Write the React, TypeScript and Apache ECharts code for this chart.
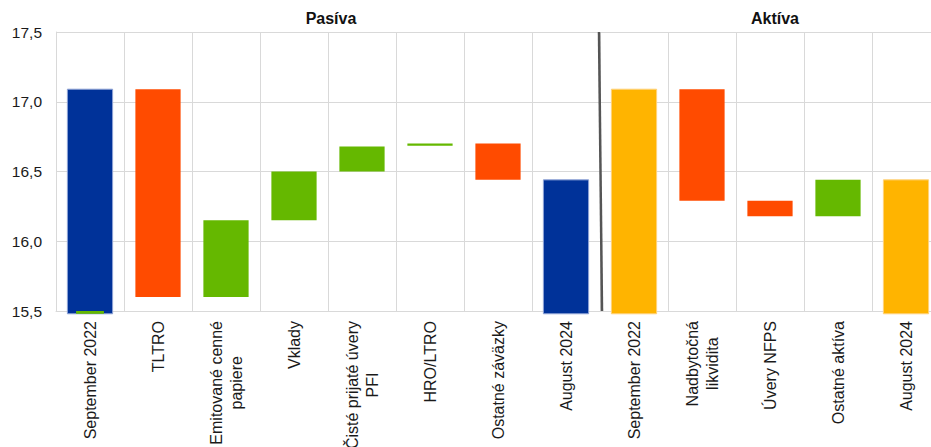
import React, { useEffect, useRef } from "react";
import * as echarts from "echarts";

const categories = [
  "September 2022",
  "TLTRO",
  "Emitované cenné\npapiere",
  "Vklady",
  "Čisté prijaté úvery\nPFI",
  "HRO/LTRO",
  "Ostatné záväzky",
  "August 2024",
  "September 2022",
  "Nadbytočná\nlikvidita",
  "Úvery NFPS",
  "Ostatné aktíva",
  "August 2024",
];
// floating bars: lower and upper value of each bar
const barLow = [15.48, 15.6, 15.6, 16.15, 16.5, 16.685, 16.44, 15.48, 15.48, 16.29, 16.18, 16.18, 15.48];
const barHigh = [17.09, 17.09, 16.15, 16.5, 16.68, 16.7, 16.7, 16.44, 17.09, 17.09, 16.29, 16.44, 16.44];
const barKind = [
  "totalP", "decrease", "increase", "increase", "increase", "increase", "decrease", "totalP",
  "totalA", "decrease", "decrease", "increase", "totalA",
];
// small marker at bottom of first bar
const markerLow = [15.48];
const markerHigh = [15.5];
const markerCat = [0];

const sectionTitles = ["Pasíva", "Aktíva"];
const yTicks = { min: 15.5, max: 17.5, interval: 0.5 };

const FONT = "'Liberation Sans', Arial, Helvetica, sans-serif";

const fills: Record<string, string> = {
  totalP: "#003299",
  totalA: "#ffb400",
  decrease: "#ff4b00",
  increase: "#65b800",
};
const strokes: Record<string, string | undefined> = {
  totalP: "#8fa3d6",
  totalA: "#ffd27a",
};

export default function App() {
  const ref = useRef<HTMLDivElement>(null);
  useEffect(() => {
    if (!ref.current) return;
    const chart = echarts.init(ref.current, undefined, { renderer: "svg" });
    const barData = categories.map((_, i) => [i, barLow[i], barHigh[i]]);
    const markerData = markerCat.map((c, i) => [c, markerLow[i], markerHigh[i]]);
    chart.setOption({
      animation: false,
      grid: {
        left: 56,
        top: 32,
        width: 884,
        bottom: 136,
        containLabel: false,
        outerBoundsMode: "none",
      },
      xAxis: {
        type: "category",
        data: categories,
        boundaryGap: true,
        axisLine: { show: true, lineStyle: { color: "#d9d9d9", width: 1 } },
        axisTick: { show: false },
        splitLine: { show: true, lineStyle: { color: "#d9d9d9", width: 1 } },
        axisLabel: {
          interval: 0,
          rotate: 90,
          margin: 10,
          fontSize: 16,
          fontFamily: FONT,
          color: "#1a1a1a",
          hideOverlap: false,
          formatter: (v: string) =>
            v
              .split("\n")
              .map((l) => `{c|${l}}`)
              .join("\n"),
          rich: {
            c: { align: "center", fontSize: 16, fontFamily: FONT, color: "#1a1a1a", lineHeight: 20 },
          },
        },
      },
      yAxis: {
        type: "value",
        min: yTicks.min,
        max: yTicks.max,
        interval: yTicks.interval,
        axisLine: { show: true, lineStyle: { color: "#d9d9d9", width: 1 } },
        axisTick: { show: false },
        splitLine: { show: true, lineStyle: { color: "#d9d9d9", width: 1 } },
        axisLabel: {
          margin: 14,
          fontSize: 15.5,
          fontFamily: FONT,
          color: "#1a1a1a",
          formatter: (v: number) => v.toFixed(1).replace(".", ","),
        },
      },
      graphic: [
        {
          type: "text",
          x: 331,
          y: 18.5,
          style: {
            text: sectionTitles[0],
            fontSize: 16,
            fontWeight: "bold",
            fontFamily: FONT,
            fill: "#111",
            align: "center",
            verticalAlign: "middle",
          },
        },
        {
          type: "text",
          x: 775,
          y: 18.5,
          style: {
            text: sectionTitles[1],
            fontSize: 16,
            fontWeight: "bold",
            fontFamily: FONT,
            fill: "#111",
            align: "center",
            verticalAlign: "middle",
          },
        },
      ],
      series: [
        {
          type: "custom",
          clip: false,
          encode: { x: 0, y: [1, 2] },
          data: barData,
          renderItem: (params: any, api: any) => {
            const i = params.dataIndex;
            const top = api.coord([api.value(0), api.value(2)]);
            const bot = api.coord([api.value(0), api.value(1)]);
            const w = api.size([1, 0])[0] * 0.665;
            const kind = barKind[i];
            const stroke = strokes[kind];
            return {
              type: "rect",
              shape: { x: top[0] - w / 2, y: top[1], width: w, height: bot[1] - top[1] },
              style: {
                fill: fills[kind],
                stroke: stroke || undefined,
                lineWidth: stroke ? 1 : 0,
              },
            };
          },
        },
        {
          type: "custom",
          clip: false,
          encode: { x: 0, y: [1, 2] },
          data: markerData,
          renderItem: (params: any, api: any) => {
            const top = api.coord([api.value(0), api.value(2)]);
            const bot = api.coord([api.value(0), api.value(1)]);
            const w = api.size([1, 0])[0] * 0.41;
            return {
              type: "rect",
              shape: { x: top[0] - w / 2, y: top[1], width: w, height: bot[1] - top[1] },
              style: { fill: fills.increase },
            };
          },
        },
        {
          type: "custom",
          clip: false,
          data: [[7, 8]],
          renderItem: (params: any, api: any) => {
            const a = api.coord([api.value(0), yTicks.max]);
            const b = api.coord([api.value(1), yTicks.min]);
            const x = (a[0] + b[0]) / 2;
            return {
              type: "line",
              shape: { x1: x - 1, y1: a[1], x2: x + 2, y2: b[1] },
              style: { stroke: "#555555", lineWidth: 2.5 },
            };
          },
        },
      ],
    });
    return () => chart.dispose();
  }, []);
  return (
    <div
      ref={ref}
      style={{ position: "absolute", left: 0, top: 0, width: 931, height: 447, background: "#fff" }}
    />
  );
}
